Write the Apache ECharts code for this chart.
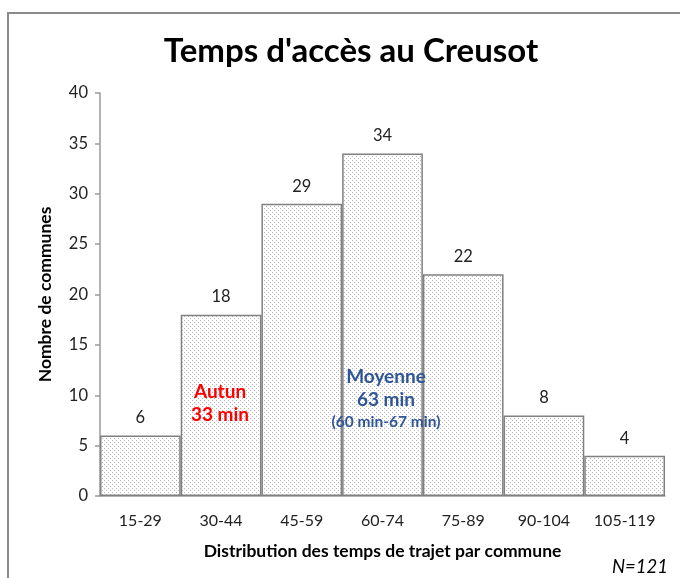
<!DOCTYPE html>
<html>
<head>
<meta charset="utf-8">
<script src="https://cdn.jsdelivr.net/npm/echarts@6/dist/echarts.min.js"></script>
<style>
  html, body { margin: 0; padding: 0; background: #fff; }
  #chart { width: 680px; height: 578px; }
</style>
</head>
<body>
<div id="chart"></div>
<script>
// classes de temps de trajet (minutes)
const categories = ["15-29", "30-44", "45-59", "60-74", "75-89", "90-104", "105-119"];
// nombre de communes par classe
const communes = [6, 18, 29, 34, 22, 8, 4];
const yTicks = { min: 0, max: 40, interval: 5 };

// motif pointillé comme dans Excel
function dotPattern() {
  const c = document.createElement("canvas");
  c.width = 4;
  c.height = 4;
  const ctx = c.getContext("2d");
  ctx.fillStyle = "#fff";
  ctx.fillRect(0, 0, 4, 4);
  ctx.fillStyle = "#b4b4b4";
  ctx.fillRect(0, 0, 1, 1);
  ctx.fillRect(2, 2, 1, 1);
  return c;
}

const font = "Lato, 'Liberation Sans', sans-serif";
const chart = echarts.init(document.getElementById("chart"));

chart.setOption({
  animation: false,
  backgroundColor: "#fff",
  title: {
    text: "Temps d'accès au Creusot",
    left: 346,
    textAlign: "center",
    top: 30,
    textStyle: { fontFamily: font, fontSize: 33, fontWeight: "bold", color: "#000" }
  },
  grid: { left: 100, right: 15, top: 93, bottom: 82 },
  xAxis: {
    type: "category",
    data: categories,
    axisTick: { show: false },
    axisLine: { lineStyle: { color: "#9a9a9a", width: 1.5 } },
    axisLabel: { interval: 0, fontFamily: font, fontSize: 16, color: "#222", margin: 17 },
    name: "Distribution des temps de trajet par commune",
    nameLocation: "middle",
    nameGap: 46,
    nameTextStyle: { fontFamily: font, fontSize: 17.5, fontWeight: "bold", color: "#000" }
  },
  yAxis: {
    type: "value",
    min: yTicks.min,
    max: yTicks.max,
    interval: yTicks.interval,
    splitLine: { show: false },
    axisLine: { show: true, lineStyle: { color: "#9a9a9a", width: 1.5 } },
    axisTick: { show: true, length: 5, lineStyle: { color: "#9a9a9a", width: 1.5 } },
    axisLabel: { fontFamily: font, fontSize: 16.5, color: "#222", margin: 12 },
    name: "Nombre de communes",
    nameLocation: "middle",
    nameGap: 46,
    nameTextStyle: { fontFamily: font, fontSize: 17.5, fontWeight: "bold", color: "#000" }
  },
  series: [{
    type: "bar",
    data: communes,
    barCategoryGap: 0,
    itemStyle: {
      color: { image: dotPattern(), repeat: "repeat" },
      borderColor: "#808080",
      borderWidth: 1.5
    },
    label: {
      show: true,
      position: "top",
      distance: 9,
      fontFamily: font,
      fontSize: 16.5,
      color: "#222"
    }
  }],
  graphic: [
    {
      type: "rect",
      z: 100,
      shape: { x: 8, y: 13, width: 700, height: 600 },
      style: { fill: null, stroke: "#8a8a8a", lineWidth: 2 },
      silent: true
    },
    {
      type: "text",
      z: 100,
      x: 220, y: 380,
      style: {
        text: "Autun\n33 min",
        fill: "#ff0000",
        font: "bold 19px " + font,
        align: "center",
        lineHeight: 23
      }
    },
    {
      type: "text",
      z: 100,
      x: 386, y: 365,
      style: {
        text: "Moyenne\n63 min",
        fill: "#2f5597",
        font: "bold 19px " + font,
        align: "center",
        lineHeight: 23
      }
    },
    {
      type: "text",
      z: 100,
      x: 386, y: 414,
      style: {
        text: "(60 min-67 min)",
        fill: "#2f5597",
        font: "bold 15.5px " + font,
        align: "center"
      }
    },
    {
      type: "text",
      z: 100,
      x: 668, y: 558,
      style: {
        text: "N=121",
        fill: "#000",
        font: "italic 18.5px " + font,
        align: "right"
      }
    }
  ]
});
</script>
</body>
</html>
